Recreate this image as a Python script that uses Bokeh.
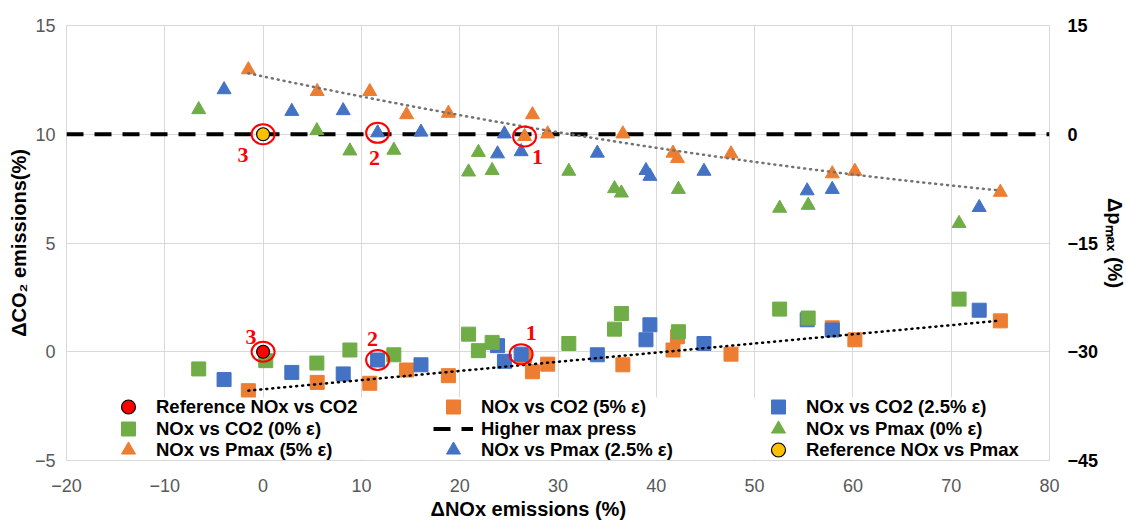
import numpy as np
from bokeh.plotting import figure
from bokeh.models import Range1d, LinearAxis, FixedTicker, Legend, LegendItem, Title, BoxAnnotation
from bokeh.core.properties import value
from bokeh.embed import file_html
from bokeh.resources import INLINE

# ---------------- data ----------------
x_ticks = [-20, -10, 0, 10, 20, 30, 40, 50, 60, 70, 80]
co2_ticks = [-5, 0, 5, 10, 15]
pmax_ticks = [-45, -30, -15, 0, 15]

# 5 % epsilon (orange)
or_x = [-1.5, 5.5, 10.85, 14.6, 18.85, 26.6, 27.4, 28.95, 36.6, 41.7, 42.15, 47.6, 57.9, 60.2, 75.0]
or_co2 = [-1.79, -1.41, -1.45, -0.84, -1.1, -0.2, -0.92, -0.57, -0.6, 0.08, 0.69, -0.11, 1.1, 0.55, 1.42]
or_pmax = [8.9, 5.9, 5.9, 2.7, 2.9, -0.3, 2.7, 0.05, 0.05, -2.6, -3.35, -2.7, -5.45, -5.1, -8.0]

# 2.5 % epsilon (blue)
bl_x = [-3.97, 2.92, 8.15, 11.65, 16.06, 23.85, 24.55, 26.25, 34.0, 38.95, 39.35, 44.85, 55.35, 57.9, 72.85]
bl_co2 = [-1.28, -0.95, -1.02, -0.38, -0.6, 0.28, -0.44, -0.11, -0.14, 0.55, 1.24, 0.38, 1.47, 1.0, 1.91]
bl_pmax = [6.15, 3.16, 3.26, 0.2, 0.3, -2.7, 0.05, -2.4, -2.6, -5.0, -5.8, -5.1, -7.8, -7.6, -10.1]

# 0 % epsilon (green)
gr_co2_x = [-6.55, 0.27, 5.47, 8.83, 13.3, 20.9, 21.9, 23.3, 31.1, 35.75, 36.45, 42.25, 52.55, 55.45, 70.8]
gr_co2 = [-0.79, -0.41, -0.52, 0.08, -0.14, 0.81, 0.05, 0.43, 0.38, 1.04, 1.76, 0.92, 1.96, 1.55, 2.42]
gr_pmax_x = [-6.55, 5.47, 8.83, 13.3, 20.9, 21.9, 23.3, 31.1, 35.75, 36.45, 42.25, 52.55, 55.45, 70.8]
gr_pmax = [3.4, 0.5, -2.3, -2.2, -5.2, -2.5, -5.0, -5.1, -7.5, -8.1, -7.6, -10.2, -9.8, -12.3]

# reference points
ref_x = [0.0]
ref_co2 = [0.0]
ref_pmax = [0.0]

# higher max pressure line
hp_x = [-20, 80]
hp_y = [0, 0]

# circled cases
case_labels = ["3", "2", "1"]
case_co2_x = [ref_x[0], bl_x[3], bl_x[7]]
case_co2_y = [ref_co2[0], bl_co2[3], bl_co2[7]]
case_pmax_x = [ref_x[0], bl_x[3], or_x[5]]
case_pmax_y = [ref_pmax[0], bl_pmax[3], or_pmax[5]]

# legend rows (Excel order)
legend_rows = [
    ["Reference NOx vs CO2", "NOx vs CO2 (5% ε)", "NOx vs CO2 (2.5% ε)"],
    ["NOx vs CO2 (0% ε)", "Higher max press", "NOx vs Pmax (0% ε)"],
    ["NOx vs Pmax (5% ε)", "NOx vs Pmax (2.5% ε)", "Reference NOx vs Pmax"],
]

# ---------------- colours / fonts ----------------
ORANGE = "#ED7D31"
BLUE = "#4472C4"
GREEN = "#70AD47"
YELLOW = "#FFC000"
RED = "#FF0000"
FONT = "Liberation Sans"

p = figure(frame_width=983, frame_height=435, x_range=Range1d(-20, 80), y_range=Range1d(-5, 15),
           output_backend="svg", toolbar_location=None,
           min_border_left=66, min_border_right=40, min_border_top=25, min_border_bottom=50)
p.extra_y_ranges = {"pmax": Range1d(-45, 15)}
p.outline_line_color = "#d9d9d9"
p.background_fill_color = "white"

right_axis = LinearAxis(y_range_name="pmax", axis_label="Δpₘₐₓ (%)")
p.add_layout(right_axis, "right")

p.xaxis.ticker = FixedTicker(ticks=x_ticks)
p.yaxis[0].ticker = FixedTicker(ticks=co2_ticks)
right_axis.ticker = FixedTicker(ticks=pmax_ticks)

for ax in p.axis:
    ax.axis_line_color = None
    ax.major_tick_line_color = None
    ax.minor_tick_line_color = None
    ax.major_tick_in = 0
    ax.major_tick_out = 0
    ax.minor_tick_in = 0
    ax.minor_tick_out = 0
    ax.major_label_text_font = FONT
    ax.major_label_text_font_size = "18px"
    ax.axis_label_text_font = FONT
    ax.axis_label_text_font_size = "20px"
    ax.axis_label_text_font_style = "bold"
    ax.axis_label_text_color = "black"

p.yaxis[0].axis_label = "ΔCO₂ emissions(%)"
p.yaxis[0].major_label_text_color = "#595959"
p.yaxis[0].major_label_standoff = 11
p.yaxis[0].axis_label_standoff = 2
p.xaxis.major_label_text_color = "#595959"
p.xaxis.major_label_standoff = 18
right_axis.major_label_text_color = "black"
right_axis.major_label_text_font_style = "bold"
right_axis.major_label_standoff = 18
right_axis.axis_label_standoff = 3

p.add_layout(Title(text="ΔNOx emissions (%)", align="left", offset=364,
                   text_font=FONT, text_font_size="20px", text_font_style="bold",
                   text_color="black", standoff=2), "below")

p.xgrid.grid_line_color = "#d9d9d9"
p.ygrid.grid_line_color = "#d9d9d9"

# higher max pressure dashed line
r_hp = p.line(hp_x, hp_y, y_range_name="pmax", line_color="black", line_width=4, line_dash="17 11")

# CO2 squares
r_or_sq = p.scatter(or_x, or_co2, marker="square", size=14, fill_color=ORANGE, line_color=ORANGE)
r_bl_sq = p.scatter(bl_x, bl_co2, marker="square", size=14, fill_color=BLUE, line_color=BLUE)
r_gr_sq = p.scatter(gr_co2_x, gr_co2, marker="square", size=14, fill_color=GREEN, line_color=GREEN)
r_ref_co2 = p.scatter(ref_x, ref_co2, marker="circle", size=13, fill_color=RED, line_color="black", line_width=1.2)

# Pmax triangles
r_or_tr = p.scatter(or_x, or_pmax, y_range_name="pmax", marker="triangle", size=14, fill_color=ORANGE, line_color=ORANGE)
r_bl_tr = p.scatter(bl_x, bl_pmax, y_range_name="pmax", marker="triangle", size=14, fill_color=BLUE, line_color=BLUE)
r_gr_tr = p.scatter(gr_pmax_x, gr_pmax, y_range_name="pmax", marker="triangle", size=14, fill_color=GREEN, line_color=GREEN)
r_ref_pm = p.scatter(ref_x, ref_pmax, y_range_name="pmax", marker="circle", size=13, fill_color=YELLOW, line_color="black", line_width=1.2)

# trend lines on the 5 % epsilon series (2nd-order for Pmax, linear for CO2)
xs = np.linspace(min(or_x), max(or_x), 120)
c1 = np.polyfit(or_x, or_pmax, 2)
c2 = np.polyfit(or_x, or_co2, 1)
p.line(xs, np.polyval(c1, xs), y_range_name="pmax", line_color="#767171", line_width=2.5,
       line_dash="1 5", line_cap="round")
p.line(xs, np.polyval(c2, xs), line_color="black", line_width=2.5, line_dash="1 5", line_cap="round")

# circled cases
p.ellipse(case_co2_x, case_co2_y, width=23, height=20, width_units="screen", height_units="screen",
          fill_color=None, line_color=RED, line_width=2)
p.ellipse(case_pmax_x, case_pmax_y, y_range_name="pmax", width=23, height=20, width_units="screen",
          height_units="screen", fill_color=None, line_color=RED, line_width=2)
p.text(case_co2_x, case_co2_y, text=case_labels, x_offset=[-12, -5, 10], y_offset=[-15, -21, -21],
       text_font=value("Liberation Serif"), text_font_style="bold", text_font_size="22px",
       text_color=RED, text_align="center", text_baseline="middle")
p.text(case_pmax_x, case_pmax_y, y_range_name="pmax", text=case_labels, x_offset=[-20, -3, 13],
       y_offset=[21, 25, 21], text_font=value("Liberation Serif"), text_font_style="bold",
       text_font_size="22px", text_color=RED, text_align="center", text_baseline="middle")

# legend background
p.add_layout(BoxAnnotation(left=-15.6, right=79.1, bottom=-4.95, top=-2.1,
                           fill_color="white", fill_alpha=1.0, line_color=None))

renderers = {
    "Reference NOx vs CO2": r_ref_co2, "NOx vs CO2 (5% ε)": r_or_sq, "NOx vs CO2 (2.5% ε)": r_bl_sq,
    "NOx vs CO2 (0% ε)": r_gr_sq, "Higher max press": r_hp, "NOx vs Pmax (0% ε)": r_gr_tr,
    "NOx vs Pmax (5% ε)": r_or_tr, "NOx vs Pmax (2.5% ε)": r_bl_tr, "Reference NOx vs Pmax": r_ref_pm,
}
row_bottoms = [36, 14, -7]
for row, yb in zip(legend_rows, row_bottoms):
    lg = Legend(items=[LegendItem(label=lab, renderers=[renderers[lab]]) for lab in row],
                location=(42, yb), orientation="horizontal",
                glyph_width=40, glyph_height=35, spacing=0, label_width=277, label_standoff=8,
                label_height=20, padding=0, margin=0, border_line_color=None,
                background_fill_alpha=0.0,
                label_text_font=FONT, label_text_font_size="18.5px", label_text_font_style="bold",
                label_text_color="black")
    p.add_layout(lg, "center")

open("out.html", "w").write(file_html(p, INLINE))
